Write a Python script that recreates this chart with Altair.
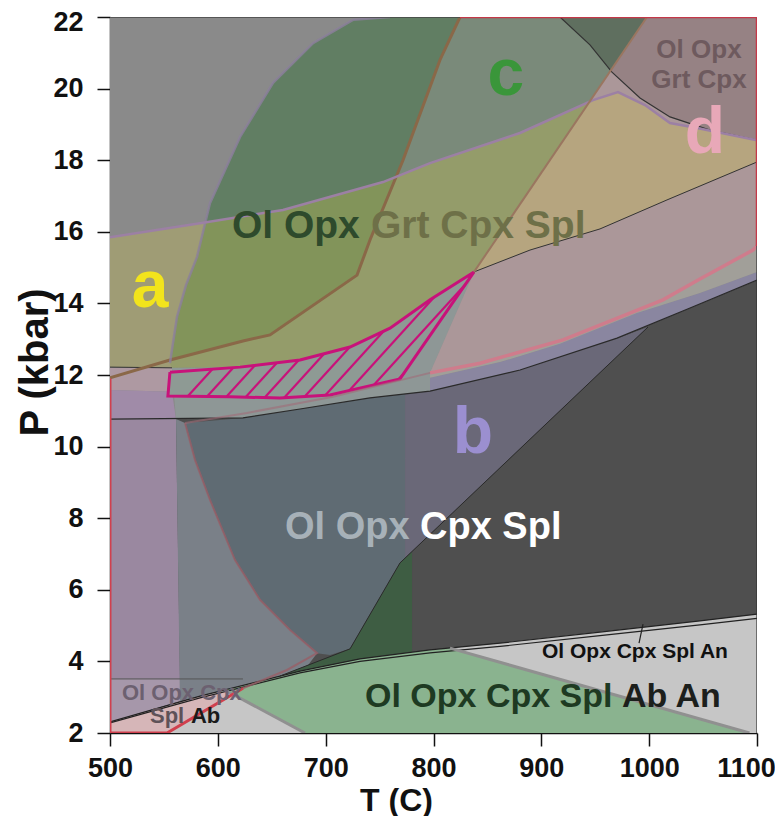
import altair as alt
import pandas as pd
import numpy as np

# ---------------- data (T in C, P in kbar) ----------------
# phase boundaries
L2_T = [500, 623.3, 676.2, 741.1, 796.8, 880.2, 970.2, 1037.9, 1100]
L2_P = [10.77, 10.80, 11.05, 11.36, 11.55, 12.14, 13.03, 13.87, 14.65]
PL_T = [500, 583.5, 676.2, 731.8, 796.8, 861.7, 954.4, 1047.1, 1100]
PL_P = [2.31, 3.03, 3.73, 4.07, 4.32, 4.51, 4.82, 5.13, 5.32]
PL2_P = [2.28, 2.98, 3.68, 4.00, 4.24, 4.42, 4.72, 5.02, 5.20]
L1R_T = [837.6, 889.5, 954.4, 1016.5, 1100]
L1R_P = [14.88, 15.49, 16.08, 16.89, 17.95]
HT_T = [557.5, 620.6, 676.2, 722.6, 759.7, 796.8, 837.6]
HT_P = [12.20, 12.22, 12.42, 12.78, 13.31, 14.10, 14.88]
C3_T = [917.3, 945.1, 965.5, 991.5, 1019.3, 1056.4, 1100]
C3_P = [22.0, 21.22, 20.46, 19.74, 19.21, 18.84, 18.56]
ATOP_T = [500, 583.5, 660.4, 753.2, 796.8, 880.2, 947.9, 971.1, 996.1, 1019.3, 1044.4, 1100]
ATOP_P = [15.85, 16.24, 16.61, 17.39, 17.92, 18.76, 19.68, 19.90, 19.54, 19.04, 18.90, 18.56]
LEAF_T = [555.6, 562.1, 570.5, 580.7, 592.7, 620.6, 651.2, 688.3, 725.3, 759.7]
LEAF_P = [12.33, 13.62, 14.51, 15.30, 16.80, 18.65, 20.16, 21.27, 21.92, 22.0]
BROWN_T = [824.6, 806.0, 771.7, 741.1, 729.1, 648.4, 623.3, 555.6, 500]
BROWN_P = [22.0, 20.80, 18.0, 15.77, 14.79, 13.12, 12.95, 12.42, 11.92]
PINK_T = [1100, 1096.3, 1047.1, 1012.8, 920.1, 843.1, 796.8]
PINK_P = [15.60, 15.49, 14.68, 14.10, 12.98, 12.33, 12.06]
PURP_T = [796.8, 861.7, 917.3, 988.7, 1047.1, 1100]
PURP_P = [11.92, 12.36, 12.87, 13.73, 14.29, 14.88]
DIAG_T = [657.6, 722.6, 768.9, 998.9]
DIAG_P = [3.59, 4.35, 6.75, 13.34]
# hatched field
H_T = [555.6, 620.6, 676.2, 722.6, 759.7, 796.8, 837.6, 768.9, 704.0, 657.6, 611.3, 553.7]
H_P = [12.08, 12.22, 12.42, 12.78, 13.31, 14.10, 14.88, 11.89, 11.44, 11.36, 11.39, 11.41]
# other fields
IN_T = [569.6, 623.3, 676.2, 741.1, 773.6, 773.6, 768.9, 722.6, 704.0, 692.0, 667.0, 639.1, 615.9, 592.7, 578.8]
IN_P = [10.66, 10.80, 11.05, 11.36, 11.50, 6.89, 6.75, 4.35, 4.18, 4.23, 4.88, 5.72, 6.83, 8.51, 9.63]
W_T = [561.2, 569.6, 578.8, 592.7, 615.9, 639.1, 667.0, 692.0, 680.8, 676.2, 583.5, 564.9]
W_P = [10.77, 10.66, 9.63, 8.51, 6.83, 5.72, 4.88, 4.23, 3.78, 3.73, 3.03, 2.89]
GR_T = [606.6, 676.2, 731.8, 796.8, 815.3, 1093, 680.8]
GR_P = [3.20, 3.73, 4.07, 4.32, 4.37, 2.0, 2.0]
DG_T = [657.6, 722.6, 768.9, 780.1, 780.1, 731.8, 676.2]
DG_P = [3.59, 4.35, 6.75, 7.06, 4.26, 4.07, 3.73]
BT_T = [773.6, 796.8, 880.2, 970.2, 998.9, 773.6]
BT_P = [11.50, 11.55, 12.14, 13.03, 13.34, 6.89]
PKL_T = [500, 583.5, 623.3, 552.9, 500]
PKL_P = [2.31, 3.03, 3.25, 2.0, 2.0]
X_TICKS = [500, 600, 700, 800, 900, 1000, 1100]
Y_TICKS = [2, 4, 6, 8, 10, 12, 14, 16, 18, 20, 22]

xs = alt.Scale(domain=[500, 1100], nice=False, zero=False)
ys = alt.Scale(domain=[2, 22], nice=False, zero=False)
FONT = "Liberation Sans"

xaxis = alt.Axis(values=X_TICKS, title="T (C)", format="d",
                 grid=False, labelFont=FONT, labelFontWeight="bold", labelFontSize=27,
                 labelColor="#111", labelPadding=9, tickSize=13, tickWidth=1.5,
                 tickColor="#111", domainColor="#111", domainWidth=1.5,
                 labelFlush=False,
                 labelOffset={"condition": {"test": "datum.value == 1100", "value": -11},
                              "value": 0},
                 titleFont=FONT, titleFontWeight="bold",
                 titleFontSize=32, titleColor="#111", titleX=286, titleY=77,
                 titleAlign="center", titleBaseline="alphabetic")
yaxis = alt.Axis(values=Y_TICKS, title="P (kbar)", format="d", grid=False,
                 labelFont=FONT, labelFontWeight="bold", labelFontSize=27,
                 labelColor="#111", labelPadding=14, tickSize=13, tickWidth=1.5,
                 tickColor="#111", domainColor="#111", domainWidth=1.5,
                 labelFlush=False,
                 labelOffset={"condition": {"test": "datum.value == 22", "value": 5},
                              "value": 0},
                 titleFont=FONT, titleFontWeight="bold",
                 titleFontSize=40, titleColor="#111", titleX=-63, titleY=345,
                 titleAngle=270, titleAlign="center", titleBaseline="alphabetic")


def df_of(T, P):
    return pd.DataFrame({"T": T, "P": P, "i": list(range(len(T)))})


def X(f="T:Q"):
    return alt.X(f, scale=xs, axis=xaxis)


def Y(f="P:Q"):
    return alt.Y(f, scale=ys, axis=yaxis)


def enc(ch):
    return ch.encode(x=X(), y=Y(), order="i:Q")


def poly(T, P, fill, op=1.0):
    return enc(alt.Chart(df_of(T, P)).mark_line(
        filled=True, fill=fill, fillOpacity=op, strokeWidth=0, clip=True))


def line(T, P, color, w=1.0, op=1.0):
    return enc(alt.Chart(df_of(T, P)).mark_line(
        stroke=color, strokeWidth=w, strokeOpacity=op, clip=True))


def text(lbl, T, P, size, color, align="left"):
    return alt.Chart(pd.DataFrame({"T": [T], "P": [P], "t": [lbl]})).mark_text(
        align=align, baseline="alphabetic", font=FONT, fontWeight="bold",
        fontSize=size, color=color).encode(x=X(), y=Y(), text="t:N")


layers = []
layers.append(poly([500, 1100, 1100, 500], [2, 2, 22, 22], "#8a8a8a"))
layers.append(poly(C3_T + [1100], C3_P + [22], "#686868"))
layers.append(poly(L2_T + PL_T[::-1], L2_P + PL_P[::-1], "#4f4f4f"))
layers.append(poly(PL_T + [1100, 500], PL_P + [2, 2], "#c6c6c6"))
layers.append(poly(PKL_T, PKL_P, "#d6b6b8"))
layers.append(poly(GR_T, GR_P, "#8ab38f"))
# left strips
layers.append(poly([500, 557.5, 557.5, 500], [12.2, 12.2, 11.53, 11.58], "#ae99a2"))
layers.append(poly([500, 557.5, 561.2, 500], [11.58, 11.53, 10.77, 10.77], "#a08ba8"))
layers.append(poly([500, 561.2, 564.9, 500], [10.77, 10.77, 3.51, 3.51], "#9a88a0"))
layers.append(poly([500, 564.9, 564.9, 500], [3.51, 3.51, 2.89, 2.31], "#a697aa"))
layers.append(poly(W_T, W_P, "#7a8088"))
layers.append(poly(IN_T, IN_P, "#5f6b73"))
layers.append(poly(BT_T, BT_P, "#6a6878"))
layers.append(poly(DG_T, DG_P, "#3e5d43"))
# teal band
TB_T = HT_T + [796.8, 796.8, 741.1, 676.2, 623.3, 561.2]
TB_P = HT_P + [12.06, 11.55, 11.36, 11.05, 10.80, 10.77]
layers.append(poly(TB_T, TB_P, "#8e9796"))
layers.append(poly(PURP_T + L2_T[::-1][:5], PURP_P + L2_P[::-1][:5], "#8a86a0"))
layers.append(poly(PINK_T + PURP_T, PINK_P + PURP_P, "#a19f99"))
# translucent estimates
C_T = LEAF_T + [998, 837.6] + HT_T[:-1][::-1]
C_P = LEAF_P + [22, 14.88] + HT_P[:-1][::-1]
layers.append(poly(C_T, C_P, "#3c8c3c", 0.2))
layers.append(poly(LEAF_T + BROWN_T[:-1], LEAF_P + BROWN_P[:-1], "#286430", 0.3))
D_T = [998, 1100] + PINK_T + [837.6]
D_P = [22, 22] + PINK_P + [14.88]
layers.append(poly(D_T, D_P, "#dcaab0", 0.4))
A_T = ATOP_T + [1100] + L1R_T[:-1][::-1] + HT_T[:-1][::-1] + [500]
A_P = ATOP_P + [17.95] + L1R_P[:-1][::-1] + HT_P[:-1][::-1] + [12.22]
layers.append(poly(A_T, A_P, "#d2c846", 0.3))

# hatched field
layers.append(poly(H_T, H_P, "#8e9a94"))
s = 0.0331
segs = []
n = len(H_T)
for m in range(14):
    k = 11.4 - s * (572 + 18.1 * m)
    cut = []
    for j in range(n):
        T1, P1 = H_T[j], H_P[j]
        T2, P2 = H_T[(j + 1) % n], H_P[(j + 1) % n]
        f1 = P1 - s * T1 - k
        f2 = P2 - s * T2 - k
        if (f1 > 0) != (f2 > 0):
            t = f1 / (f1 - f2)
            cut.append(T1 + t * (T2 - T1))
    cut.sort()
    for a, b in zip(cut[::2], cut[1::2]):
        segs.append((a, k + s * a, b, k + s * b))
hdf = pd.DataFrame(segs, columns=["T", "P", "T2", "P2"])
layers.append(alt.Chart(hdf).mark_rule(color="#c8127a", strokeWidth=2.2).encode(
    x=X(), y=Y(), x2="T2:Q", y2="P2:Q"))
layers.append(line(H_T + [H_T[0]], H_P + [H_P[0]], "#c8127a", 3))

# boundary lines and outlines
layers.append(line(L2_T, L2_P, "#2a2a2a", 1.2))
layers.append(line([500, 557.5], [12.22, 12.2], "#333", 1))
layers.append(line(L1R_T, L1R_P, "#333", 1))
layers.append(line(C3_T, C3_P, "#333", 1.2))
layers.append(line(PL_T, PL_P, "#222", 1.2))
layers.append(line(PL_T, PL2_P, "#222", 1.2))
layers.append(line([500, 623.3], [3.51, 3.51], "#555", 1))
layers.append(line(DIAG_T, DIAG_P, "#2a2a2a", 1))
layers.append(line([994.3, 990.6], [5.04, 4.51], "#222", 1.2))
layers.append(line([606.6, 680.8], [3.2, 2.0], "#909090", 3))
layers.append(line([815.3, 1093], [4.37, 2.0], "#909090", 3))
layers.append(line(BROWN_T, BROWN_P, "#8a6848", 3))
layers.append(line(LEAF_T, LEAF_P, "#8c809c", 2.5, 0.8))
layers.append(line(ATOP_T, ATOP_P, "#9c80a4", 2.5))
layers.append(line([998, 837.6], [22, 14.88], "#9a7660", 2))
layers.append(line(PINK_T, PINK_P, "#cf7c8c", 3.5))
layers.append(line([569.6, 578.8, 592.7, 615.9, 639.1, 667.0, 692.0, 664.1, 623.3],
                   [10.66, 9.63, 8.51, 6.83, 5.72, 4.88, 4.23, 3.76, 3.25], "#985e66", 2, 0.8))
layers.append(line([569.6, 627, 706.8, 796.8], [10.66, 10.94, 11.39, 12.06], "#a06c78", 2, 0.6))
layers.append(line([500, 500, 552.9, 623.3], [11.9, 2.0, 2.0, 3.25], "#d0404e", 3))
layers.append(line([500, 824.6], [22, 22], "#444", 1.5))
layers.append(line([824.6, 1100, 1100], [22, 22, 15.6], "#c43848", 2.5))
layers.append(line([1100, 1100], [15.6, 2], "#333", 1.2))

# labels
layers += [
    text("Ol Opx", 613.1, 15.83, 39, "#2e4a2c"),
    text("Grt Cpx Spl", 742.0, 15.83, 39, "#6e7048"),
    text("Ol Opx", 662.3, 7.42, 38, "#a7b1b8"),
    text("Cpx Spl", 787.5, 7.42, 38, "#ffffff"),
    text("Ol Opx Cpx Spl", 736.5, 2.73, 34, "#1e3a22"),
    text("Ab An", 974.8, 2.73, 34, "#1c1f1c"),
    text("Ol Opx Cpx Spl An", 900.6, 4.09, 21, "#111111"),
    text("Ol Opx Cpx", 511.1, 2.92, 22, "#6c6070"),
    text("Spl", 537.1, 2.28, 22, "#5e5258"),
    text("Ab", 575.0, 2.28, 22, "#1a1a1a"),
    text("Ol Opx", 1046.2, 20.85, 26, "#6e5a5e", "center"),
    text("Grt Cpx", 1046.2, 20.02, 26, "#6e5a5e", "center"),
    text("a", 537.1, 13.9, 66, "#f2e41c", "center"),
    text("b", 836.6, 9.82, 66, "#9b8fd0", "center"),
    text("c", 867.2, 19.82, 66, "#3a963a", "center"),
    text("d", 1051.8, 18.2, 66, "#e8a8b8", "center"),
]

chart = alt.layer(*layers).properties(
    width=647, height=716,
    autosize=alt.AutoSizeParams(type="none"),
    padding={"left": 102, "top": 9, "right": 18, "bottom": 83},
    background="white",
).configure_view(stroke=None)

chart.save("out.html", embed_options={"renderer": "svg", "actions": False})
